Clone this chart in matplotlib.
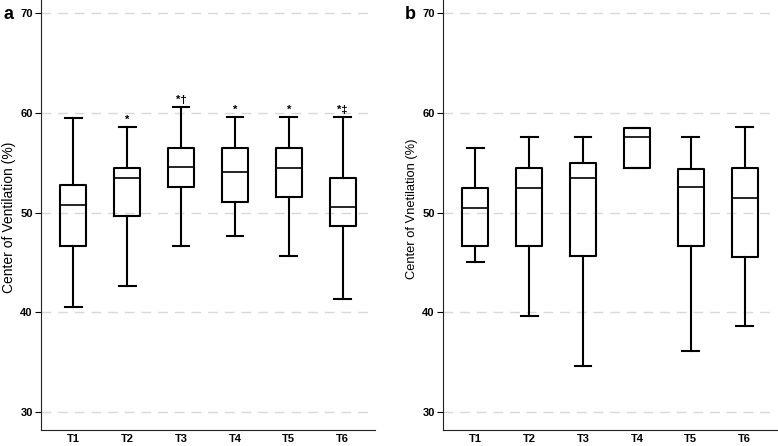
import matplotlib.pyplot as plt

plt.rcParams['font.family'] = ['Liberation Sans', 'DejaVu Sans']

groups = ['T1', 'T2', 'T3', 'T4', 'T5', 'T6']

# panel a: whisker low, Q1, median, Q3, whisker high
a_low = [40.5, 42.6, 46.6, 47.6, 45.6, 41.3]
a_q1 = [46.6, 49.6, 52.6, 51.1, 51.6, 48.6]
a_med = [50.8, 53.5, 54.6, 54.1, 54.5, 50.6]
a_q3 = [52.8, 54.5, 56.5, 56.5, 56.5, 53.5]
a_high = [59.5, 58.6, 60.6, 59.6, 59.6, 59.6]
a_marks = ['', '*', '*\u2020', '*', '*', '*\u2021']

# panel b
b_low = [45.0, 39.6, 34.6, 54.5, 36.1, 38.6]
b_q1 = [46.6, 46.6, 45.6, 54.5, 46.6, 45.5]
b_med = [50.5, 52.5, 53.5, 57.6, 52.6, 51.5]
b_q3 = [52.5, 54.5, 55.0, 58.5, 54.4, 54.5]
b_high = [56.5, 57.6, 57.6, 58.5, 57.6, 58.6]

fig = plt.figure(figsize=(7.78, 4.46), dpi=100)
ax_a = fig.add_axes([0.0527, 0.0359, 0.4293, 0.9641])
ax_b = fig.add_axes([0.5694, 0.0359, 0.4293, 0.9641])


def draw_panel(ax, low, q1, med, q3, high, ylabel, lsize, ly):
    stats = []
    for i in range(len(groups)):
        stats.append({'whislo': low[i], 'q1': q1[i], 'med': med[i],
                      'q3': q3[i], 'whishi': high[i], 'fliers': [],
                      'label': groups[i]})
    lw = 1.5
    ax.bxp(stats, positions=range(len(groups)), widths=0.48,
           showfliers=False, capwidths=0.31,
           boxprops=dict(color='black', linewidth=lw),
           whiskerprops=dict(color='black', linewidth=lw),
           capprops=dict(color='black', linewidth=lw),
           medianprops=dict(color='black', linewidth=1.2))
    ax.set_xlim(-0.6, 5.6)
    ax.set_ylim(28.2, 71.3)
    ax.set_yticks([30, 40, 50, 60, 70])
    ax.yaxis.grid(True, color='#d8d8d8', linestyle=(0, (7, 5)), linewidth=1)
    ax.set_axisbelow(True)
    ax.spines['top'].set_visible(False)
    ax.spines['right'].set_visible(False)
    ax.spines['left'].set_color('#222222')
    ax.spines['bottom'].set_color('#222222')
    ax.tick_params(axis='x', length=0, pad=3, labelsize=8)
    ax.tick_params(axis='y', length=4, width=0.8, pad=2, labelsize=8)
    for lab in ax.get_xticklabels() + ax.get_yticklabels():
        lab.set_fontweight('bold')
    ax.set_ylabel(ylabel, fontsize=lsize)
    ax.yaxis.set_label_coords(-0.075, ly)


draw_panel(ax_a, a_low, a_q1, a_med, a_q3, a_high,
           'Center of Ventilation (%)', 10, 0.495)
draw_panel(ax_b, b_low, b_q1, b_med, b_q3, b_high,
           'Center of Vnetilation (%)', 9.3, 0.515)

for i, m in enumerate(a_marks):
    if m:
        ax_a.text(i, a_high[i] + 0.15, m, ha='center', va='bottom',
                  fontsize=8, fontweight='bold')

fig.text(0.004, 0.967, 'a', fontsize=13, fontweight='bold', va='center')
fig.text(0.520, 0.967, 'b', fontsize=13, fontweight='bold', va='center')

fig.savefig('out.png', dpi=100)
